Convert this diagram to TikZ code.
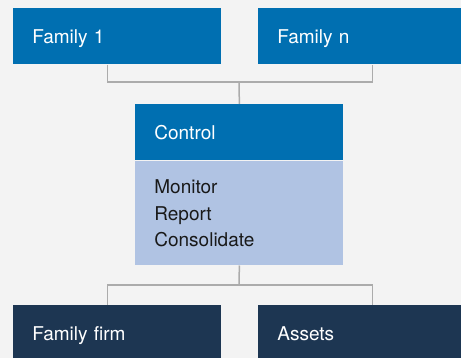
\documentclass[tikz,border=0pt]{standalone}
\usepackage{fontspec}
\setmainfont{TeX Gyre Heros}
\usepackage{tikz}
\usetikzlibrary{positioning}
\definecolor{bgcol}{HTML}{F3F3F3}
\definecolor{topblue}{HTML}{006FB1}
\definecolor{lightblue}{HTML}{B0C3E3}
\definecolor{navy}{HTML}{1D3652}
\definecolor{linkgray}{HTML}{ABABAB}
\tikzset{every picture/.style={line width=0.75pt}}
\tikzset{
  box/.style={rectangle, anchor=north west, minimum width=208pt, minimum height=56pt,
    text width=170pt, inner xsep=19pt, inner ysep=0pt, align=left,
    text height=14pt, text depth=0pt, font=\fontsize{19}{26.5}\selectfont},
  upper/.style={box, fill=topblue, text=white},
  lower/.style={box, fill=navy, text=white},
  link/.style={draw=linkgray, line width=1.5pt}
}

\begin{document}
\begin{tikzpicture}[x=1pt, y=-1pt]
\fill[bgcol] (0,0) rectangle (461,358);
\useasboundingbox (0,0) rectangle (461,358);
\clip (0,0) rectangle (461,358);
% families on top
\node[upper] (fam1) at (13,8) {Family 1};
\node[upper] (famn) at (258,8) {Family n};
% control block
\node[upper] (ctrl) at (135,104) {Control};
\node[rectangle, fill=lightblue, minimum width=208pt, minimum height=104pt,
  inner sep=0pt, below=0pt of ctrl] (tasks) {};
\node[anchor=base west, align=left, inner sep=0pt, text=black!90,
  font=\fontsize{19}{26.5}\selectfont] (tasklist)
  at ([xshift=19pt,yshift=-86pt]tasks.north west) {Monitor\\Report\\Consolidate};
% what is controlled
\node[lower] (firm) at (13,305) {Family firm};
\node[lower] (assets) at (258,305) {Assets};
% connectors
\coordinate (jtop) at (239,82);
\coordinate (jbot) at (239,285);
\draw[link] ([xshift=-10pt]fam1.south) |- (jtop) -| ([xshift=10pt]famn.south);
\draw[link] (jtop) -- (ctrl.north);
\draw[link] (tasks.south) -- (jbot);
\draw[link] ([xshift=-10pt]firm.north) |- (jbot) -| ([xshift=10pt]assets.north);
\end{tikzpicture}
\end{document}
